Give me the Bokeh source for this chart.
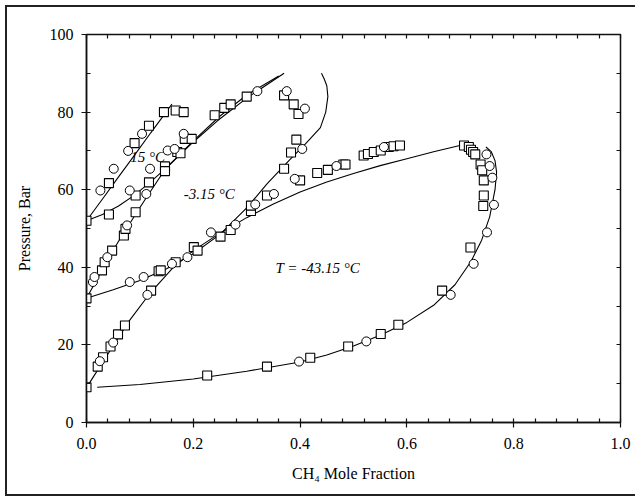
from bokeh.plotting import figure
from bokeh.models import (LinearAxis, SingleIntervalTicker, PrintfTickFormatter,
                          Range1d)
from bokeh.core.properties import value
from bokeh.embed import file_html
from bokeh.resources import INLINE

# ---- CO2 + CH4 phase envelopes: model curves ----
# 15 C
bub15_x = [0.0, 0.03, 0.06, 0.09, 0.12, 0.14, 0.16]
bub15_y = [52.0, 57.6, 63.3, 68.9, 74.6, 78.3, 82.1]
dew15_x = [0.0, 0.03, 0.06, 0.09, 0.12, 0.15, 0.2, 0.25, 0.3, 0.36]
dew15_y = [52.0, 53.6, 55.8, 58.6, 62.0, 65.7, 72.6, 79.0, 84.4, 89.3]

# -3.15 C
bub3_x = [0.0, 0.02, 0.04, 0.06, 0.082, 0.1, 0.12, 0.148, 0.2, 0.25, 0.3, 0.37]
bub3_y = [32.0, 37.0, 42.0, 46.7, 51.5, 55.4, 59.6, 65.4, 72.3, 78.3, 83.6, 90.0]
dew3_x = [0.0, 0.05, 0.1, 0.15, 0.2, 0.25, 0.3, 0.338, 0.38, 0.41, 0.438, 0.448,
          0.452, 0.45, 0.445, 0.44]
dew3_y = [32.0, 34.2, 36.6, 39.6, 43.5, 48.5, 55.3, 61.5, 67.6, 71.8, 76.0, 80.0,
          84.0, 86.8, 88.6, 90.0]

# -43.15 C
bub43_x = [0.0, 0.02, 0.05, 0.08, 0.12, 0.16, 0.2, 0.25, 0.3, 0.35, 0.4, 0.45,
           0.5, 0.55, 0.6, 0.65, 0.705]
bub43_y = [9.0, 13.3, 19.8, 26.2, 33.5, 39.6, 44.3, 48.8, 52.8, 56.3, 59.4, 62.0,
           64.2, 66.2, 68.0, 69.8, 71.6]
dew43_x = [0.02, 0.1, 0.2, 0.3, 0.4, 0.45, 0.5, 0.55, 0.6, 0.65, 0.69, 0.72, 0.74,
           0.755, 0.765, 0.768, 0.765, 0.758, 0.748]
dew43_y = [9.1, 9.8, 11.2, 13.2, 15.6, 17.4, 19.7, 22.5, 25.8, 30.2, 35.5, 41.5,
           47.0, 53.0, 60.0, 64.5, 67.5, 69.8, 71.0]

# ---- measured points (two data sets: squares and circles) ----
sq15_x = [0.0, 0.042, 0.090, 0.117, 0.145, 0.167, 0.182, 0.042, 0.092, 0.117,
          0.147, 0.147, 0.170, 0.176, 0.184, 0.197]
sq15_y = [52.0, 61.7, 72.0, 76.5, 80.0, 80.4, 80.0, 53.6, 58.5, 61.9,
          66.0, 64.8, 69.7, 69.4, 73.1, 73.1]
ci15_x = [0.026, 0.051, 0.078, 0.104, 0.081, 0.112, 0.119, 0.152, 0.165, 0.182]
ci15_y = [59.8, 65.4, 70.0, 74.4, 59.8, 58.9, 65.4, 70.1, 70.5, 74.4]

sq3_x = [0.0, 0.029, 0.034, 0.048, 0.070, 0.073, 0.092, 0.240, 0.258, 0.270, 0.300,
         0.135, 0.139, 0.167, 0.201, 0.208, 0.370, 0.388, 0.397, 0.393, 0.383,
         0.370, 0.400, 0.308, 0.308, 0.338]
sq3_y = [32.0, 39.2, 41.3, 44.3, 48.2, 49.9, 54.2, 79.2, 81.1, 82.0, 84.0,
         39.0, 39.2, 41.3, 45.2, 44.3, 84.3, 82.0, 79.5, 72.9, 69.6,
         65.4, 62.4, 54.5, 55.9, 58.5]
ci3_x = [0.012, 0.015, 0.039, 0.076, 0.320, 0.081, 0.107, 0.160, 0.189, 0.375,
         0.409, 0.404, 0.390, 0.316, 0.351]
ci3_y = [36.2, 37.5, 42.6, 50.8, 85.4, 36.2, 37.5, 40.9, 42.6, 85.4,
         80.9, 70.5, 62.8, 56.2, 58.9]

sq43_x = [0.0, 0.021, 0.031, 0.045, 0.059, 0.072, 0.121, 0.251, 0.270, 0.432,
          0.452, 0.481, 0.485, 0.519, 0.527, 0.538, 0.551, 0.566, 0.575, 0.587,
          0.707, 0.716, 0.720, 0.724, 0.728, 0.738, 0.741, 0.744, 0.744, 0.743,
          0.719, 0.666, 0.584, 0.551, 0.490, 0.419, 0.338, 0.226]
sq43_y = [9.1, 14.4, 16.8, 19.6, 22.7, 25.0, 34.0, 47.9, 49.6, 64.3,
          65.1, 66.5, 66.5, 68.8, 69.2, 69.7, 70.1, 71.0, 71.2, 71.4,
          71.4, 71.0, 70.3, 69.7, 69.1, 66.5, 65.0, 62.4, 58.5, 55.8,
          45.1, 34.0, 25.2, 22.8, 19.6, 16.7, 14.4, 12.1]
ci43_x = [0.025, 0.050, 0.114, 0.233, 0.279, 0.468, 0.557, 0.749, 0.755, 0.760,
          0.763, 0.750, 0.725, 0.682, 0.524, 0.398]
ci43_y = [15.8, 20.6, 32.9, 49.0, 51.0, 66.1, 71.0, 69.1, 66.1, 63.1,
          56.1, 49.0, 40.9, 32.9, 20.9, 15.7]

# isotherm labels
label_text = ["15 °C", "-3.15 °C", "T = -43.15 °C"]
label_x = [0.082, 0.182, 0.354]
label_y = [68.3, 58.8, 39.7]

SERIF = "Liberation Serif"

p = figure(width=635, height=497, x_range=Range1d(0, 1), y_range=Range1d(0, 100),
           output_backend="svg", toolbar_location=None,
           min_border_left=86, min_border_right=15, min_border_top=34,
           min_border_bottom=75)
p.xgrid.visible = False
p.ygrid.visible = False
p.background_fill_color = "white"
p.border_fill_color = None
p.outline_line_color = "#111111"
p.outline_line_width = 1.5
# figure frame drawn on the host element (left, top and bottom edges)
p.styles = {
    "background": (
        "linear-gradient(#222,#222) 5px 5px / 2px 491px no-repeat,"
        "linear-gradient(#222,#222) 5px 5px / 630px 2px no-repeat,"
        "linear-gradient(#222,#222) 5px 494px / 630px 2px no-repeat,"
        "white"
    )
}

# curves
for xs, ys in [(bub15_x, bub15_y), (dew15_x, dew15_y), (bub3_x, bub3_y),
               (dew3_x, dew3_y), (bub43_x, bub43_y), (dew43_x, dew43_y)]:
    p.line(xs, ys, line_color="black", line_width=1.1)

# labels
p.text(x=label_x, y=label_y, text=label_text, text_font=value(SERIF),
       text_font_style="italic", text_font_size="15px", text_color="black",
       text_align="left", text_baseline="middle")

# markers
for xs, ys in [(sq15_x, sq15_y), (sq3_x, sq3_y), (sq43_x, sq43_y)]:
    p.scatter(xs, ys, marker="square", size=9, fill_color="white",
              line_color="black", line_width=1.1)
for xs, ys in [(ci15_x, ci15_y), (ci3_x, ci3_y), (ci43_x, ci43_y)]:
    p.scatter(xs, ys, marker="circle", size=9, fill_color="white",
              line_color="black", line_width=1.0)

# bottom axis
xa = p.xaxis[0]
xa.ticker = SingleIntervalTicker(interval=0.2, num_minor_ticks=5)
xa.formatter = PrintfTickFormatter(format="%.1f")
xa.axis_label = "CH₄ Mole Fraction"
xa.major_label_standoff = 10
xa.axis_label_standoff = 13
# left axis
ya = p.yaxis[0]
ya.ticker = SingleIntervalTicker(interval=20, num_minor_ticks=2)
ya.axis_label = "Pressure, Bar"
ya.major_label_standoff = 8
ya.axis_label_standoff = 14

for ax in (xa, ya):
    ax.axis_line_color = "#111111"
    ax.axis_line_width = 1.5
    ax.major_tick_line_color = "#111111"
    ax.minor_tick_line_color = "#111111"
    ax.major_tick_line_width = 1.2
    ax.minor_tick_line_width = 1.2
    ax.major_tick_out = 5
    ax.major_tick_in = 0
    ax.minor_tick_out = 0
    ax.minor_tick_in = 4
    ax.major_label_text_font = SERIF
    ax.major_label_text_font_size = "16px"
    ax.major_label_text_color = "black"
    ax.axis_label_text_font = SERIF
    ax.axis_label_text_font_size = "16px"
    ax.axis_label_text_font_style = "normal"
    ax.axis_label_text_color = "black"

# top and right axes: inward ticks only, no labels
top = LinearAxis(ticker=SingleIntervalTicker(interval=0.04, num_minor_ticks=0))
right = LinearAxis(ticker=SingleIntervalTicker(interval=10, num_minor_ticks=0))
for ax in (top, right):
    ax.axis_line_color = None
    ax.major_tick_line_color = "#111111"
    ax.major_tick_line_width = 1.2
    ax.major_tick_in = 4
    ax.major_tick_out = 0
    ax.minor_tick_line_color = None
    ax.major_label_text_color = None
    ax.major_label_text_font_size = "1px"
    ax.major_label_standoff = 0
p.add_layout(top, "above")
p.add_layout(right, "right")

open("out.html", "w").write(file_html(p, INLINE))
